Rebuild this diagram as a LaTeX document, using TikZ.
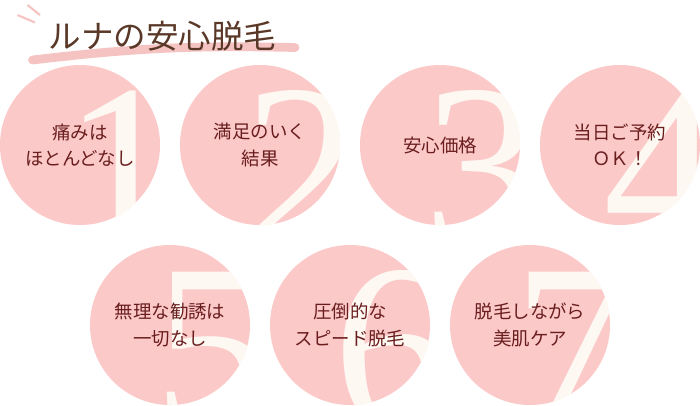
\documentclass[tikz,border=0pt]{standalone}
\usepackage{fontspec}
\setmainfont{Liberation Serif}
\newfontfamily\jpfont{Noto Sans CJK JP}
\usetikzlibrary{positioning}
\definecolor{circlePink}{HTML}{FCC9C9}
\definecolor{numCream}{HTML}{FDF8F1}
\definecolor{textRed}{HTML}{6A1D1D}
\definecolor{titleBrown}{HTML}{5A3828}
\definecolor{linePink}{HTML}{F6C3C3}
\tikzset{
  pointCircle/.style={circle, fill=circlePink, minimum size=160*0.02cm, inner sep=0pt},
  pointText/.style={align=center, text=textRed, font=\jpfont\fontsize{10.5}{15}\selectfont},
  bigNum/.style={text=numCream, font=\fontsize{135}{135}\selectfont, anchor=base, inner sep=0pt}
}
\newcommand{\point}[4]{%
  \node[pointCircle] (c#1) at (#2) {};
  \begin{scope}
    \clip (c#1.center) circle (1.6);
    \node[bigNum] (n#1) at ([xshift=0.85cm,yshift=-2.05cm]c#1.center) {#1};
  \end{scope}
  \node[pointText] (t#1) at (c#1.center) {#4};
}
\begin{document}
\begin{tikzpicture}
  \useasboundingbox (0,0) rectangle (14,-8.1);
  % title
  \draw[linePink, line width=5pt, line cap=round] (0.65,-1.2) to[bend left=4] (5.9,-0.95);
  \draw[linePink, line width=1.2pt] (0.35,-0.3) -- (0.7,-0.45) (0.55,-0.1) -- (0.8,-0.3);
  \node[anchor=west, text=titleBrown, font=\jpfont\fontsize{18.5}{20}\selectfont] (title) at (0.85,-0.72) {ルナの安心脱毛};
  % points
  \point{1}{1.6,-2.9}{}{痛みは\\ほとんどなし}
  \point{2}{5.2,-2.9}{}{満足のいく\\結果}
  \point{3}{8.8,-2.9}{}{安心価格}
  \point{4}{12.4,-2.9}{}{当日ご予約\\ＯＫ！}
  \point{5}{3.4,-6.5}{}{無理な勧誘は\\一切なし}
  \point{6}{7.0,-6.5}{}{圧倒的な\\スピード脱毛}
  \point{7}{10.6,-6.5}{}{脱毛しながら\\美肌ケア}
\end{tikzpicture}
\end{document}
